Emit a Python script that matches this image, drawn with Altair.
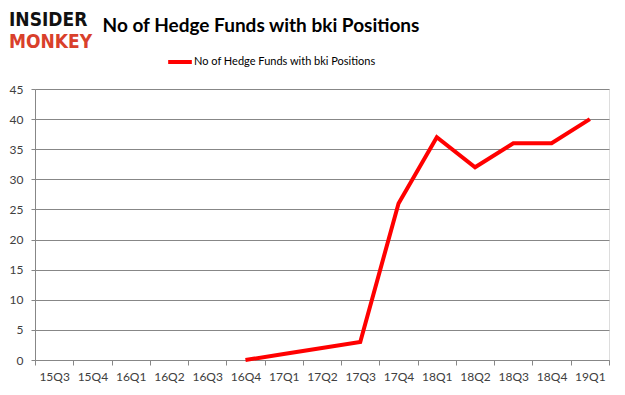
import altair as alt
import pandas as pd

quarters = ["15Q3", "15Q4", "16Q1", "16Q2", "16Q3", "16Q4", "17Q1", "17Q2",
            "17Q3", "17Q4", "18Q1", "18Q2", "18Q3", "18Q4", "19Q1"]
funds = [None, None, None, None, None, 0, 1, 2, 3, 26, 37, 32, 36, 36, 40]
series_name = "No of Hedge Funds with bki Positions"
y_ticks = [0, 5, 10, 15, 20, 25, 30, 35, 40, 45]

df = pd.DataFrame({"quarter": quarters, "funds": funds, "series": series_name})
df = df.dropna()

W, H = 574, 271
FONT = "Lato"
GRAY = "#878787"

x_enc = alt.X("quarter:N", sort=quarters,
              scale=alt.Scale(type="band", domain=quarters, paddingInner=0, paddingOuter=0),
              axis=alt.Axis(title=None, labelAngle=0, tickBand="extent", grid=False,
                            domainColor=GRAY, tickColor=GRAY, tickSize=5,
                            labelFont=FONT, labelFontSize=12, labelColor="#404040",
                            labelPadding=6))
y_enc = alt.Y("funds:Q",
              scale=alt.Scale(domain=[0, 45], nice=False),
              axis=alt.Axis(title=None, values=y_ticks, grid=True, gridColor=GRAY,
                            domainColor=GRAY, tickColor=GRAY, tickSize=4,
                            labelFont=FONT, labelFontSize=12, labelColor="#404040",
                            labelPadding=8))

line = alt.Chart(df).mark_line(strokeWidth=4, color="#ff0000").encode(
    x=x_enc, y=y_enc,
    color=alt.Color("series:N", scale=alt.Scale(range=["#ff0000"]),
                    legend=alt.Legend(title=None, orient="none", legendX=131, legendY=-41,
                                      symbolType="stroke", symbolStrokeWidth=4,
                                      symbolSize=560, labelFont=FONT, labelFontSize=11,
                                      labelLimit=0,
                                      labelColor="#000000", labelOffset=0))
)

title = alt.Chart(pd.DataFrame({"t": [series_name]})).mark_text(
    font=FONT, fontSize=19, fontWeight="bold", color="#000000", align="center", baseline="alphabetic"
).encode(text="t:N", x=alt.value(226), y=alt.value(-57))

logo1 = alt.Chart(pd.DataFrame({"t": ["INSIDER"]})).mark_text(
    font="DejaVu Sans Condensed", fontSize=19, fontWeight="bold", color="#111111", align="left", baseline="alphabetic"
).encode(text="t:N", x=alt.value(-26), y=alt.value(-63))
logo2 = alt.Chart(pd.DataFrame({"t": ["MONKEY"]})).mark_text(
    font="DejaVu Sans Condensed", fontSize=19, fontWeight="bold", color="#d9402b", align="left", baseline="alphabetic"
).encode(text="t:N", x=alt.value(-26), y=alt.value(-41))

chart = alt.layer(line, title, logo1, logo2).properties(
    width=W, height=H,
    padding={"left": 27, "top": 81, "right": 8, "bottom": 27},
    autosize=alt.AutoSizeParams(type="none"),
).configure_view(stroke=None).configure(background="#ffffff")

chart.save("out.html", embed_options={"renderer": "svg", "actions": False})
